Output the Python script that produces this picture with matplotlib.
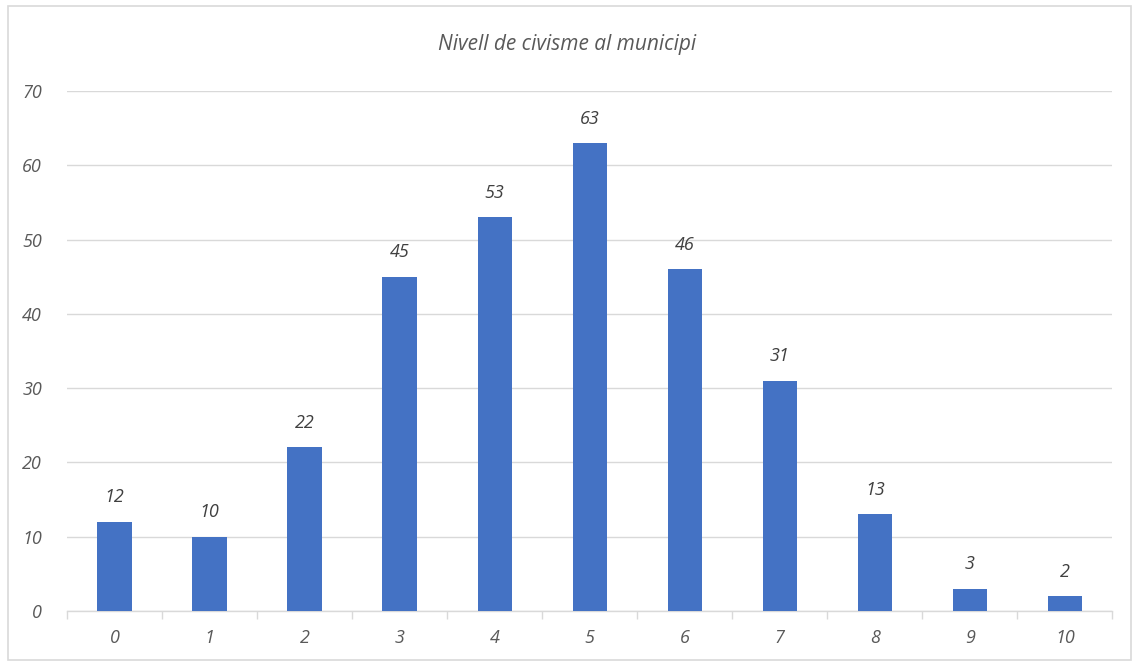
import numpy as np
import matplotlib.pyplot as plt
from matplotlib.patches import Rectangle

categories = ['0', '1', '2', '3', '4', '5', '6', '7', '8', '9', '10']
values = [12, 10, 22, 45, 53, 63, 46, 31, 13, 3, 2]
yticks = [0, 10, 20, 30, 40, 50, 60, 70]

text_color = '#595959'
grid_color = '#d9d9d9'
bar_color = '#4472c4'

plt.rcParams['font.family'] = ['Open Sans', 'DejaVu Sans']

fig = plt.figure(figsize=(11.34, 6.64), dpi=100)
ax = fig.add_axes([0.059, 0.080, 0.922, 0.783])

x = np.arange(len(categories))
ax.bar(x, values, width=0.36, color=bar_color, zorder=3)

# data labels above bars
for xi, v in zip(x, values):
    ax.annotate(str(v), (xi, v), xytext=(0, 11), textcoords='offset points',
                ha='center', va='bottom', fontsize=13, style='italic',
                color='#404040')

ax.set_xlim(-0.5, len(categories) - 0.5)
ax.set_ylim(0, 70)
ax.set_yticks(yticks)
ax.set_yticklabels([str(t) for t in yticks], fontsize=13, style='italic',
                   color=text_color)
ax.tick_params(axis='y', length=0, pad=18)
ax.yaxis.grid(True, color=grid_color, linewidth=1, zorder=0)

# category labels centered, tick marks between categories
ax.set_xticks(x)
ax.set_xticklabels(categories, fontsize=13, style='italic', color=text_color)
ax.tick_params(axis='x', which='major', length=0, pad=13)
ax.set_xticks(np.arange(-0.5, len(categories)), minor=True)
ax.tick_params(axis='x', which='minor', length=6, width=1, color=grid_color,
               direction='out')

for s in ['top', 'right', 'left']:
    ax.spines[s].set_visible(False)
ax.spines['bottom'].set_color(grid_color)
ax.spines['bottom'].set_linewidth(1)

fig.text(0.5, 0.933, 'Nivell de civisme al municipi', ha='center',
         va='center', fontsize=15, style='italic', color=text_color)

# chart border
fig.add_artist(Rectangle((0.007, 0.006), 0.99, 0.985,
                         transform=fig.transFigure, fill=False,
                         edgecolor=grid_color, linewidth=1.2))

fig.savefig('out.png', dpi=100)
